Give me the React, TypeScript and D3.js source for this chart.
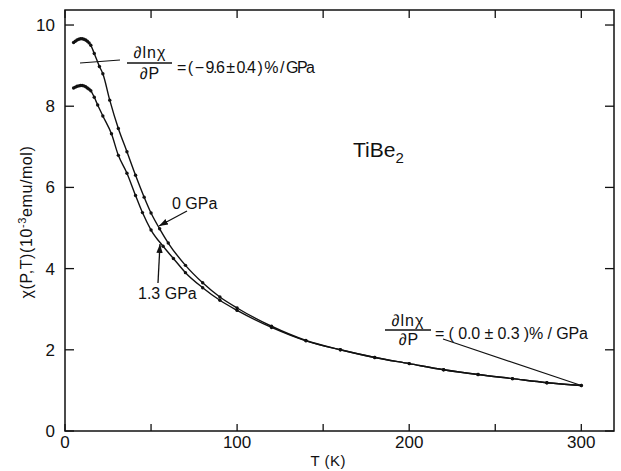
import React from "react";
import * as d3 from "d3";

const T0 = [5, 6, 7, 8, 9, 10, 11, 12, 13, 14, 15, 17, 20, 22, 26, 31, 36, 41, 46, 50, 55, 60, 70, 80, 90, 100, 120, 140, 160, 180, 200, 220, 240, 260, 280, 300];
const chi0 = [9.57, 9.6, 9.63, 9.65, 9.66, 9.66, 9.65, 9.63, 9.6, 9.56, 9.5, 9.3, 8.98, 8.8, 8.15, 7.45, 6.88, 6.3, 5.76, 5.37, 4.98, 4.63, 4.08, 3.65, 3.3, 3.03, 2.58, 2.23, 2.0, 1.81, 1.66, 1.51, 1.39, 1.29, 1.19, 1.12];

const T1 = [5, 6, 7, 8, 9, 10, 11, 12, 13, 14, 15, 17, 19, 22, 27, 31, 36, 41, 45, 50, 57, 63, 70, 80, 90, 100, 120, 140, 160, 180, 200, 220, 240, 260, 280, 300];
const chi1 = [8.45, 8.47, 8.49, 8.5, 8.51, 8.51, 8.5, 8.48, 8.45, 8.42, 8.38, 8.22, 8.03, 7.76, 7.32, 6.79, 6.35, 5.8, 5.38, 4.95, 4.55, 4.25, 3.9, 3.53, 3.22, 2.97, 2.55, 2.22, 2.0, 1.81, 1.66, 1.51, 1.39, 1.29, 1.19, 1.12];

const xTicks = [0, 50, 100, 150, 200, 250, 300];
const xLabels = [0, 100, 200, 300];
const yTicks = [0, 2, 4, 6, 8, 10];

const W = 621;
const H = 471;
const L = 65, R = 614, TOP = 10, BOT = 431;

export default function App() {
  const x = d3.scaleLinear().domain([0, 319]).range([L, R]);
  const y = d3.scaleLinear().domain([0, 10.37]).range([BOT, TOP]);
  const line = d3
    .line<[number, number]>()
    .x((d) => x(d[0]))
    .y((d) => y(d[1]))
    .curve(d3.curveMonotoneX);
  const s0: [number, number][] = T0.map((t, i) => [t, chi0[i]]);
  const s1: [number, number][] = T1.map((t, i) => [t, chi1[i]]);
  const font = "'Liberation Sans', Arial, sans-serif";
  const tl = 7;

  return (
    <svg
      width={W}
      height={H}
      style={{ position: "absolute", left: 0, top: 0, background: "#fff" }}
      fontFamily={font}
    >
      <defs>
        <marker id="ah" viewBox="0 0 10 10" refX="10" refY="5" markerWidth="9" markerHeight="9" orient="auto" markerUnits="userSpaceOnUse">
          <path d="M0,1.5 L10,5 L0,8.5 z" fill="#111" />
        </marker>
      </defs>
      <rect x={L} y={TOP} width={R - L} height={BOT - TOP} fill="none" stroke="#111" strokeWidth={1.5} />
      {xTicks.map((t) => (
        <g key={"xt" + t}>
          <line x1={x(t)} x2={x(t)} y1={BOT} y2={BOT - tl} stroke="#111" strokeWidth={1.3} />
          <line x1={x(t)} x2={x(t)} y1={TOP} y2={TOP + tl + 1} stroke="#111" strokeWidth={1.3} />
        </g>
      ))}
      {xLabels.map((t) => (
        <text key={"xl" + t} x={x(t)} y={448} fontSize={17} textAnchor="middle" fill="#111">
          {t}
        </text>
      ))}
      {yTicks.map((v) => (
        <g key={"yt" + v}>
          <line x1={L} x2={L + tl + 2} y1={y(v)} y2={y(v)} stroke="#111" strokeWidth={1.3} />
          <line x1={R} x2={R - tl - 2} y1={y(v)} y2={y(v)} stroke="#111" strokeWidth={1.3} />
          <text x={55} y={y(v) + 6} fontSize={17} textAnchor="end" fill="#111">
            {v}
          </text>
        </g>
      ))}
      <text x={x(153)} y={466} fontSize={15} textAnchor="middle" fill="#111" letterSpacing={0.5}>
        T (K)
      </text>
      <text
        transform={`translate(32,222) rotate(-90)`}
        fontSize={16}
        textAnchor="middle"
        fill="#111"
        letterSpacing={0.6}
      >
        χ(P,T)(10<tspan dy={-6} fontSize={11}>-3</tspan>
        <tspan dy={6}>emu/mol)</tspan>
      </text>

      <path d={line(s0) || ""} fill="none" stroke="#111" strokeWidth={1.4} />
      <path d={line(s1) || ""} fill="none" stroke="#111" strokeWidth={1.4} />
      {s0.map((d, i) => (
        <circle key={"a" + i} cx={x(d[0])} cy={y(d[1])} r={1.7} fill="#111" />
      ))}
      {s1.map((d, i) => (
        <circle key={"b" + i} cx={x(d[0])} cy={y(d[1])} r={1.7} fill="#111" />
      ))}

      {/* top annotation */}
      <line x1={80} y1={63} x2={120} y2={60} stroke="#111" strokeWidth={1.2} />
      <text x={150} y={58} fontSize={16} textAnchor="middle" fill="#111" letterSpacing={1}>∂lnχ</text>
      <line x1={127} x2={172} y1={63} y2={63} stroke="#111" strokeWidth={1.4} />
      <text x={150} y={79} fontSize={16} textAnchor="middle" fill="#111" letterSpacing={1}>∂P</text>
      <text x={177} y={73} fontSize={16} fill="#111" textLength={138} lengthAdjust="spacing">= ( − 9.6 ± 0.4 ) % / GPa</text>

      {/* right annotation */}
      <line x1={443} y1={339} x2={x(300)} y2={y(1.12)} stroke="#111" strokeWidth={1.2} />
      <text x={408} y={326} fontSize={16} textAnchor="middle" fill="#111" letterSpacing={1}>∂lnχ</text>
      <line x1={385} x2={431} y1={330} y2={330} stroke="#111" strokeWidth={1.4} />
      <text x={409} y={345} fontSize={16} textAnchor="middle" fill="#111" letterSpacing={1}>∂P</text>
      <text x={435} y={339} fontSize={16} fill="#111" textLength={153} lengthAdjust="spacing">= ( 0.0 ± 0.3 )% / GPa</text>

      {/* pressure labels */}
      <text x={172} y={209} fontSize={16} fill="#111">0 GPa</text>
      <line x1={187} y1={211} x2={159} y2={226} stroke="#111" strokeWidth={1.3} markerEnd="url(#ah)" />
      <text x={138} y={299} fontSize={16} fill="#111">1.3 GPa</text>
      <line x1={158} y1={283} x2={160} y2={244} stroke="#111" strokeWidth={1.3} markerEnd="url(#ah)" />

      <text x={353} y={157} fontSize={21} fill="#111">
        TiBe<tspan dy={6} fontSize={15}>2</tspan>
      </text>
    </svg>
  );
}
